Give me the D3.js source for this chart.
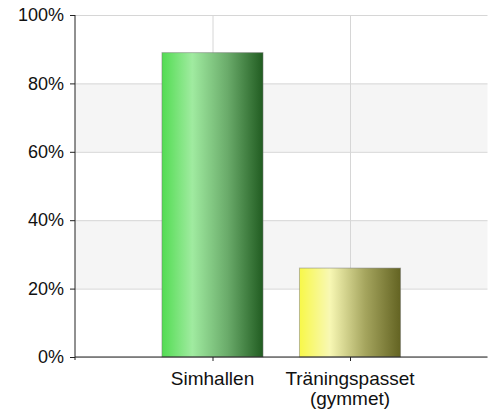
<!DOCTYPE html>
<html>
<head>
  <meta charset="utf-8">
<script src="https://cdnjs.cloudflare.com/ajax/libs/d3/7.8.5/d3.min.js"></script>
  <style>
    body { margin: 0; background: #fff; }
    text { font-family: "Liberation Sans", Arial, sans-serif; fill: #111; }
  </style>
</head>
<body>
<svg width="492" height="414"></svg>
<script>
var categories = ["Simhallen", "Träningspasset (gymmet)"];
var labelLines = [["Simhallen"], ["Träningspasset", "(gymmet)"]];
var values     = [0.89, 0.26];
var yTicks     = [0, 0.2, 0.4, 0.6, 0.8, 1.0];
var barColors  = [
  ["#52dc52", "#a0eba0", "#6aab6a", "#215c21"],
  ["#f8f848", "#f8f8b4", "#a5a55e", "#636322"]
];

var svg = d3.select("svg");
var mLeft = 75, mRight = 487.5, mTop = 15, mBottom = 357;

var x = d3.scaleLinear().domain([0, 3]).range([mLeft, mRight]);
var y = d3.scaleLinear().domain([0, 1]).range([mBottom, mTop]);
var step = x(1) - x(0);
var barW = step * 0.735;

// gradients
var defs = svg.append("defs");
barColors.forEach(function (c, i) {
  var g = defs.append("linearGradient").attr("id", "grad" + i)
    .attr("x1", "0%").attr("x2", "100%").attr("y1", "0%").attr("y2", "0%");
  [0, 0.3, 0.65, 1].forEach(function (o, j) {
    g.append("stop").attr("offset", o).attr("stop-color", c[j]);
  });
});

// alternating bands
for (var i = 0; i < yTicks.length - 1; i++) {
  if (i % 2 == 1) {
    svg.append("rect")
      .attr("x", mLeft).attr("width", mRight - mLeft)
      .attr("y", y(yTicks[i + 1])).attr("height", y(yTicks[i]) - y(yTicks[i + 1]))
      .attr("fill", "#f5f5f5");
  }
}

// grid
svg.append("g")
  .attr("transform", "translate(" + mLeft + ",0)")
  .call(d3.axisLeft(y).tickValues(yTicks).tickSize(-(mRight - mLeft)).tickFormat(""))
  .call(g => g.select(".domain").remove())
  .selectAll("line").attr("stroke", "#d6d6d6");

svg.append("g")
  .attr("transform", "translate(0," + mBottom + ")")
  .call(d3.axisBottom(x).tickValues([1, 2]).tickSize(-(mBottom - mTop)).tickFormat(""))
  .call(g => g.select(".domain").remove())
  .selectAll("line").attr("stroke", "#d6d6d6");

// bars
svg.selectAll(".bar")
  .data(values)
  .enter().append("rect")
    .attr("class", "bar")
    .attr("x", (d, i) => x(i + 1) - barW / 2)
    .attr("y", d => y(d))
    .attr("width", barW)
    .attr("height", d => y(0) - y(d))
    .attr("fill", (d, i) => "url(#grad" + i + ")")
    .attr("stroke", "rgba(120,120,120,0.5)")
    .attr("stroke-width", 1);

// y axis
var yAxis = svg.append("g")
  .attr("transform", "translate(" + mLeft + ",0)")
  .call(d3.axisLeft(y).tickValues(yTicks).tickSize(5).tickPadding(6)
        .tickFormat(d3.format(".0%")));
yAxis.select(".domain").attr("stroke", "#222").attr("d", "M0," + mTop + "V" + (mBottom + 3));
yAxis.selectAll("line").attr("stroke", "#222");
yAxis.selectAll("text").style("font-size", "18px").style("font-family", "Liberation Sans, Arial, sans-serif").attr("fill", "#111");

// x axis
var xAxis = svg.append("g")
  .attr("transform", "translate(0," + mBottom + ")")
  .call(d3.axisBottom(x).tickValues([1, 2]).tickSize(4).tickFormat(""));
xAxis.select(".domain").attr("stroke", "#222").attr("d", "M" + mLeft + ",0H" + mRight);
xAxis.selectAll("line").attr("stroke", "#222");

labelLines.forEach(function (lines, i) {
  var t = svg.append("text")
    .attr("x", x(i + 1))
    .attr("y", mBottom + 28)
    .attr("text-anchor", "middle")
    .style("font-size", "19px");
  lines.forEach(function (l, j) {
    t.append("tspan").attr("x", x(i + 1)).attr("dy", j == 0 ? 0 : 20).text(l);
  });
});
</script>
</body>
</html>
